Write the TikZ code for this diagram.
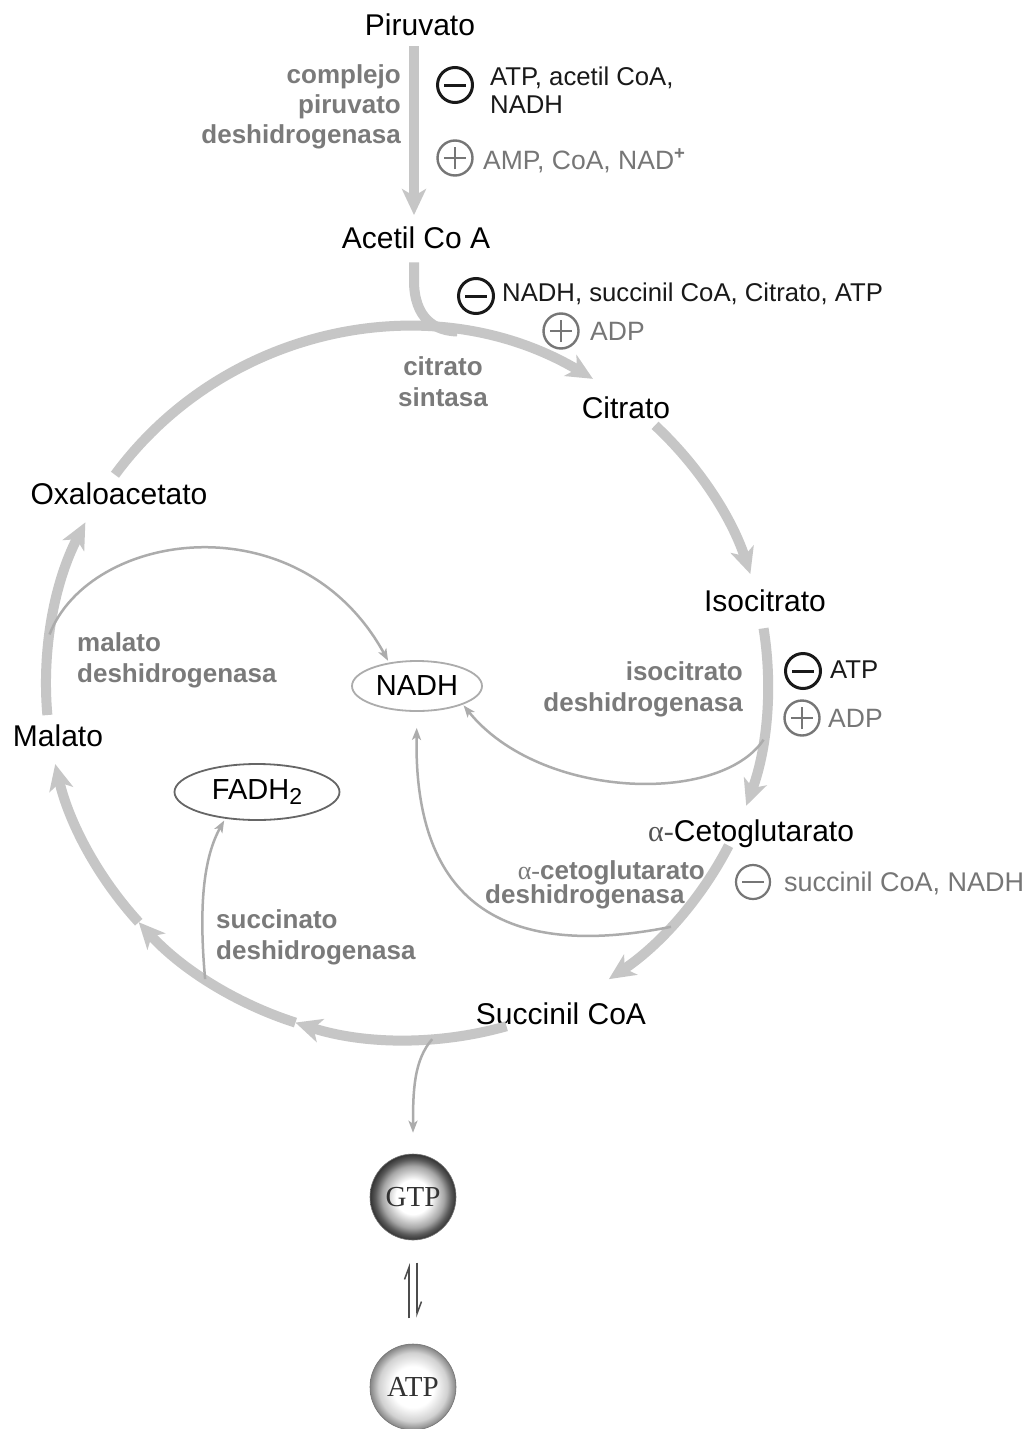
\documentclass[tikz,border=0pt]{standalone}
\usepackage{fontspec}
\setmainfont{Liberation Sans}
\newfontfamily\seriffont{Liberation Serif}
\usetikzlibrary{arrows.meta,calc,shapes.geometric}

\definecolor{cyclegray}{RGB}{198,198,198}
\definecolor{branchgray}{RGB}{172,172,172}
\definecolor{enzgray}{RGB}{122,122,122}
\definecolor{actgray}{RGB}{118,118,118}
\definecolor{inhblack}{RGB}{25,25,25}
\definecolor{alphagray}{RGB}{85,85,85}

\pgfdeclareradialshading{gtpball}{\pgfpoint{0bp}{0bp}}{color(0bp)=(white); color(10bp)=(white); color(18bp)=(black!35); color(22bp)=(black!65); color(25bp)=(black!80); color(50bp)=(black!80)}
\pgfdeclareradialshading{atpball}{\pgfpoint{0bp}{0bp}}{color(0bp)=(white); color(12bp)=(white); color(20bp)=(black!18); color(25bp)=(black!48); color(50bp)=(black!48)}

% one segment of the cycle, drawn on the common ellipse around (cyc)
\newcommand\cyclearc[3][]{\draw[#1] ($(cyc)+(#2:361 and 356)$) arc[start angle=#2, end angle=#3, x radius=361, y radius=356];}

\begin{document}
\begin{tikzpicture}[x=1pt, y=-1pt,
  metab/.style={font=\fontsize{30}{34}\selectfont, inner sep=0pt, anchor=base},
  enzyme/.style={font=\fontsize{26}{30}\selectfont\bfseries, text=enzgray, inner sep=0pt},
  effector/.style={font=\fontsize{25.7}{30}\selectfont, inner sep=0pt, anchor=base west},
  flux/.style={draw=cyclegray, line width=10pt, -{Stealth[length=26pt, width=24pt, inset=7pt]}},
  flow/.style={draw=cyclegray, line width=10pt},
  branch/.style={draw=branchgray, line width=2.5pt, -{Stealth[length=12pt, width=9pt, inset=3pt]}},
  harp/.style={draw=black!70, line width=1.5pt, -{Straight Barb[harpoon, length=12pt, width=9pt]}},
  inhib/.style={circle, draw=inhblack, line width=3pt, minimum size=35pt, inner sep=0pt,
    path picture={\draw[inhblack, line width=3pt] ([xshift=-11pt]path picture bounding box.center) -- ([xshift=11pt]path picture bounding box.center);}},
  inhibsoft/.style={circle, draw=actgray, line width=2.2pt, minimum size=34pt, inner sep=0pt,
    path picture={\draw[actgray, line width=2.2pt] ([xshift=-11pt]path picture bounding box.center) -- ([xshift=11pt]path picture bounding box.center);}},
  activ/.style={circle, draw=actgray, line width=2.4pt, minimum size=35pt, inner sep=0pt,
    path picture={\draw[actgray, line width=2.4pt] ([xshift=-11pt]path picture bounding box.center) -- ([xshift=11pt]path picture bounding box.center) ([yshift=-11pt]path picture bounding box.center) -- ([yshift=11pt]path picture bounding box.center);}},
  carrier/.style={ellipse, inner sep=0pt, font=\fontsize{29}{33}\selectfont, line width=1.8pt},
  ball/.style={circle, minimum size=86pt, inner sep=0pt, shade, font=\seriffont\fontsize{29}{33}\selectfont, text=black!80, draw=black!55, line width=0.6pt}
]
\useasboundingbox (0,0) rectangle (1033,1429);
\fill[white] (0,0) rectangle (1033,1429);

% ---- metabolites ----
\node[metab] (piruvato) at (420,36) {Piruvato};
\node[metab] (acetil) at (416,248) {Acetil Co A};
\node[metab] (citrato) at (626,418) {Citrato};
\node[metab] (isocitrato) at (765,611) {Isocitrato};
\node[metab, anchor=base west] (cetoglut) at (648,841) {{\seriffont\color{alphagray}α-}Cetoglutarato};
\node[metab] (succinil) at (561,1024) {Succinil CoA};
\node[metab] (malato) at (58,746) {Malato};
\node[metab] (oxalo) at (119,504) {Oxaloacetato};

% ---- reduced carriers and nucleotides ----
\node[carrier, draw=branchgray, minimum width=130pt, minimum height=50pt] (nadh) at (417,686) {NADH};
\node[carrier, draw=black!60, minimum width=165pt, minimum height=56pt] (fadh) at (257,792) {FADH\raisebox{-0.35ex}{\fontsize{23}{23}\selectfont 2}};
\node[ball, shading=gtpball] (gtp) at (413,1197) {GTP};
\node[ball, shading=atpball] (atp) at (413,1387) {ATP};

% ---- cycle ----
\coordinate (cyc) at (407,684);
\path ($(cyc)+(278:361 and 356)$) coordinate (csJoin)
      ($(cyc)+(188:361 and 356)$) coordinate (mdhStart)
      ($(cyc)+(9:361 and 356)$)   coordinate (icdhStart)
      ($(cyc)+(43:361 and 356)$)  coordinate (kgdhStart)
      ($(cyc)+(124:361 and 356)$) coordinate (sdhStart)
      ($(cyc)+(86:361 and 356)$)  coordinate (gtpStart);

% pyruvate dehydrogenase step
\draw[flux] ($(piruvato.south)+(-6,10)$) -- ($(acetil.north)+(-2,-11)$);
% acetyl-CoA entering the cycle
\draw[flow] ($(acetil.south)+(-2,14)$) -- ($(acetil.south)+(-2,32)$) .. controls ($(acetil.south)+(-2,70)$) and (435,331) .. (csJoin);

\cyclearc[flux]{216}{301}
\cyclearc[flux]{-46.6}{-18}
\cyclearc[flux]{-9}{20}
\cyclearc[flux]{27}{56}
\cyclearc[flux]{74}{108}
\cyclearc[flux]{108}{138}
\cyclearc[flux]{138}{167}
\cyclearc[flux]{175}{207}

% ---- NADH / FADH2 / GTP branches ----
\draw[branch, shorten >=2pt] (mdhStart) .. controls (90,530) and (300,500) .. (nadh.140);
\draw[branch, shorten >=1pt] (icdhStart) .. controls (720,805) and (540,800) .. (nadh.-22);
\draw[branch, shorten >=16pt] (kgdhStart) .. controls (480,965) and (414,880) .. (nadh.south);
\draw[branch, shorten >=2pt] (sdhStart) .. controls (198,900) and (205,855) .. (fadh.-140);
\draw[branch, shorten >=21pt] (gtpStart) .. controls (414,1060) and (413,1090) .. (gtp.north);

% GTP / ATP exchange
\draw[harp] ($(gtp.south)+(-4,78)$) -- ($(gtp.south)+(-4,23)$);
\draw[harp] ($(atp.north)+(4,-81)$) -- ($(atp.north)+(4,-26)$);

% ---- enzymes ----
\node[enzyme, anchor=base east] (pdh1) at (401,83) {complejo};
\node[enzyme, anchor=base east] (pdh2) at (401,113) {piruvato};
\node[enzyme, anchor=base east] (pdh3) at (401,143) {deshidrogenasa};
\node[enzyme, anchor=base] (cs1) at (443,375) {citrato};
\node[enzyme, anchor=base] (cs2) at (443,406) {sintasa};
\node[enzyme, anchor=base east] (icdh1) at (743,680) {isocitrato};
\node[enzyme, anchor=base east] (icdh2) at (743,711) {deshidrogenasa};
\node[enzyme, anchor=base west] (mdh1) at (77,651) {malato};
\node[enzyme, anchor=base west] (mdh2) at (77,682) {deshidrogenasa};
\node[enzyme, anchor=base east] (kgdh1) at (705,879) {{\seriffont\mdseries α-}cetoglutarato};
\node[enzyme, anchor=base west] (kgdh2) at (485,903) {deshidrogenasa};
\node[enzyme, anchor=base west] (sdh1) at (216,928) {succinato};
\node[enzyme, anchor=base west] (sdh2) at (216,959) {deshidrogenasa};

% ---- regulators ----
\node[inhib] (pdhInh) at (455,85) {};
\node[effector, text=inhblack] (pdhInhA) at (490,85) {ATP, acetil CoA,};
\node[effector, text=inhblack] (pdhInhB) at (490,113) {NADH};
\node[activ] (pdhAct) at (455,158) {};
\node[effector, text=actgray, font=\fontsize{26.5}{30}\selectfont] (pdhActT) at (483,169) {AMP, CoA, NAD\textsuperscript{\bfseries +}};
\node[inhib] (csInh) at (476,296) {};
\node[effector, text=inhblack] (csInhT) at (502,301) {NADH, succinil CoA, Citrato, ATP};
\node[activ] (csAct) at (561,331) {};
\node[effector, text=actgray, font=\fontsize{26.5}{30}\selectfont] (csActT) at (590,340) {ADP};
\node[inhib] (icdhInh) at (803,671) {};
\node[effector, text=inhblack] (icdhInhT) at (830,678) {ATP};
\node[activ] (icdhAct) at (802,718) {};
\node[effector, text=actgray, font=\fontsize{26.5}{30}\selectfont] (icdhActT) at (828,727) {ADP};
\node[inhibsoft] (kgdhInh) at (753,882) {};
\node[effector, text=actgray, font=\fontsize{27}{30}\selectfont] (kgdhInhT) at (784,891) {succinil CoA, NADH};
\end{tikzpicture}
\end{document}
